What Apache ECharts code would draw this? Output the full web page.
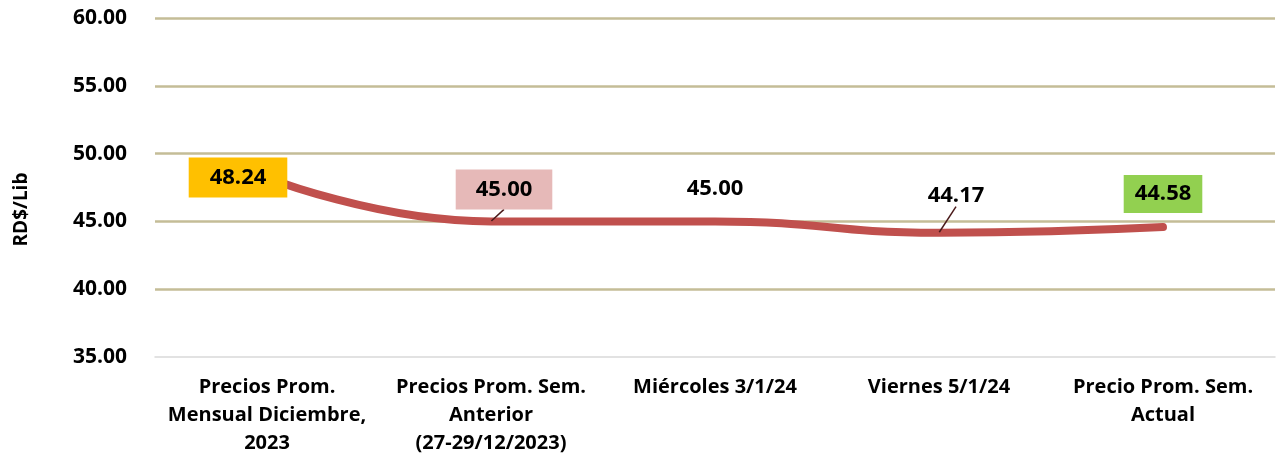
<!DOCTYPE html>
<html>
<head>
<meta charset="utf-8">
<script src="https://cdn.jsdelivr.net/npm/echarts@6/dist/echarts.min.js"></script>
<style>
  html, body { margin: 0; padding: 0; background: #fff; }
  #chart { width: 1278px; height: 464px; }
</style>
</head>
<body>
<div id="chart"></div>
<script>
// categories and prices (RD$/Lib)
const categories = [
    'Precios Prom.\nMensual Diciembre,\n2023',
    'Precios Prom. Sem.\nAnterior\n(27-29/12/2023)',
    'Miércoles 3/1/24',
    'Viernes 5/1/24',
    'Precio Prom. Sem.\nActual'
];
const prices = [48.24, 45.00, 45.00, 44.17, 44.58];
const labelColors = ['#FFC000', '#E6B9B8', null, null, '#92D050'];

const fontFamily = 'Open Sans, Noto Sans, sans-serif';

// label placement relative to each point (pixels)
const labelShift = [[-29, 0], [13, -32], [0, -33], [17, -37], [0, -33]];
const labelPadding = [[10, 21], [10, 20], 0, 0, [9, 11]];

const seriesData = prices.map((v, i) => {
    const bg = labelColors[i];
    const item = {
        value: v,
        label: {
            backgroundColor: bg || 'transparent',
            padding: labelPadding[i]
        }
    };
    if (i === 1 || i === 3) {
        item.labelLine = { show: true, lineStyle: { color: '#4A1A1A', width: 1.5 } };
    }
    return item;
});

const chart = echarts.init(document.getElementById('chart'), null, { renderer: 'canvas' });
chart.setOption({
    backgroundColor: '#fff',
    animation: false,
    grid: { left: 155, right: 3, top: 18, bottom: 107 },
    xAxis: {
        type: 'category',
        data: categories,
        boundaryGap: true,
        axisLine: { show: true, lineStyle: { color: '#D9D9D9', width: 1.5 } },
        axisTick: { show: false },
        axisLabel: {
            color: '#000',
            fontFamily: fontFamily,
            fontWeight: 'bold',
            fontSize: 20,
            lineHeight: 28,
            margin: 16,
            interval: 0
        }
    },
    yAxis: {
        type: 'value',
        min: 35,
        max: 60,
        interval: 5,
        name: 'RD$/Lib',
        nameLocation: 'middle',
        nameGap: 124,
        nameRotate: 90,
        nameTextStyle: { color: '#000', fontFamily: fontFamily, fontWeight: 'bold', fontSize: 19, padding: [0, 44, 0, 0] },
        axisLine: { show: false },
        axisTick: { show: false },
        axisLabel: {
            color: '#000',
            fontFamily: fontFamily,
            fontWeight: 'bold',
            fontSize: 21,
            margin: 28,
            formatter: v => v.toFixed(2)
        },
        splitLine: {
            lineStyle: { color: ['transparent', '#C4BD97', '#C4BD97', '#C4BD97', '#C4BD97', '#C4BD97'], width: 2.5 }
        }
    },
    series: [{
        type: 'line',
        data: seriesData,
        smooth: 0.5,
        symbol: 'circle',
        symbolSize: 1,
        showAllSymbol: true,
        itemStyle: { color: '#C0504D' },
        lineStyle: { color: '#C0504D', width: 8, cap: 'round' },
        label: {
            show: true,
            position: 'inside',
            formatter: p => Number(p.value).toFixed(2),
            color: '#000',
            fontFamily: fontFamily,
            fontWeight: 'bold',
            fontSize: 22,
            lineHeight: 20
        },
        labelLayout: p => ({
            dx: labelShift[p.dataIndex][0],
            dy: labelShift[p.dataIndex][1],
            hideOverlap: false
        }),
        z: 3
    }]
});
</script>
</body>
</html>
